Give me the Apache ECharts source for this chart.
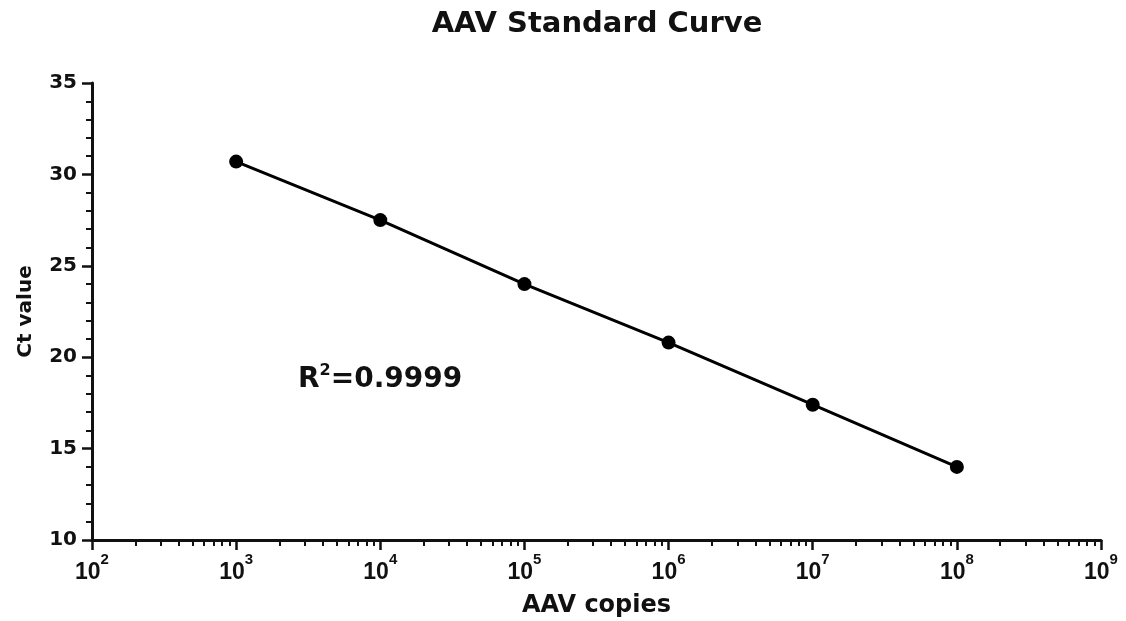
<!DOCTYPE html>
<html>
	<head>
		<meta charset="UTF-8" />
		<script src="https://cdn.jsdelivr.net/npm/echarts@6/dist/echarts.min.js"></script>
		<title>AAV Standard Curve</title>
		<style>
			body {
				margin: 0;
				background-color: #fff;
			}
			#chart {
				width: 1126px;
				height: 621px;
			}
		</style>
	</head>

	<body>
		<div id="chart"></div>
	</body>
</html>

<script>
	// copies (x) and Ct values
	var copies = [1e3, 1e4, 1e5, 1e6, 1e7, 1e8]
	var ctValues = [30.7, 27.5, 24.0, 20.8, 17.4, 14.0]
	var decadeTicks = [1e2, 1e3, 1e4, 1e5, 1e6, 1e7, 1e8, 1e9]
	var minorTicks = []
	for (var d = 0; d < decadeTicks.length - 1; d++) {
		for (var m = 2; m <= 9; m++) {
			minorTicks.push(decadeTicks[d] * m)
		}
	}
	var r2Text = '0.9999'

	var font = 'DejaVu Sans'
	var labelFont = 'Liberation Sans'
	var ink = '#111'

	var chart = echarts.init(document.getElementById('chart'))

	var option = {
		animation: false,
		backgroundColor: '#fff',
		grid: { left: 92, right: 25, top: 83, bottom: 81, outerBoundsMode: 'none' },
		graphic: [
			{
				type: 'text',
				x: 597,
				y: 10,
				style: {
					text: 'AAV Standard Curve',
					textAlign: 'center',
					fontFamily: font,
					fontWeight: 'bold',
					fontSize: 29,
					fill: ink,
				},
			},
			{
				type: 'text',
				x: 298,
				y: 363,
				style: {
					text: '{b|R}{s|2}{b|=' + r2Text + '}',
					fontFamily: font,
					fill: ink,
					rich: {
						b: { fontSize: 28, fontWeight: 'bold', fontFamily: font, fill: ink, lineHeight: 31, verticalAlign: 'bottom' },
						s: { fontSize: 16, fontWeight: 'bold', fontFamily: font, fill: ink, lineHeight: 16, verticalAlign: 'top' },
					},
				},
			},
		],
		xAxis: [
			{
				type: 'log',
				logBase: 10,
				min: 1e2,
				max: 1e9,
				position: 'bottom',
				name: 'AAV copies',
				nameLocation: 'middle',
				nameGap: 54,
				nameTextStyle: { fontFamily: font, fontWeight: 'bold', fontSize: 24, color: ink },
				axisLine: { lineStyle: { color: ink, width: 3 } },
				axisTick: { show: true, length: 10, lineStyle: { width: 2.5 }, customValues: decadeTicks },
				axisLabel: {
					margin: 12,
					customValues: decadeTicks,
					formatter: function (v) {
						var e = Math.round(Math.log10(v))
						return '{b|10}{s|' + e + '}'
					},
					rich: {
						b: { fontSize: 23, fontWeight: 'bold', fontFamily: labelFont, color: ink, lineHeight: 32, verticalAlign: 'bottom' },
						s: { fontSize: 15, fontWeight: 'bold', fontFamily: labelFont, color: ink, lineHeight: 15, verticalAlign: 'top' },
					},
				},
				splitLine: { show: false },
			},
			{
				type: 'log',
				logBase: 10,
				min: 1e2,
				max: 1e9,
				position: 'bottom',
				axisLine: { show: false },
				axisTick: { show: true, length: 6, lineStyle: { color: ink, width: 2 }, customValues: minorTicks },
				axisLabel: { show: false },
				splitLine: { show: false },
			},
		],
		yAxis: {
			type: 'value',
			min: 10,
			max: 35,
			interval: 5,
			name: 'Ct value',
			nameLocation: 'middle',
			nameGap: 56,
			nameTextStyle: { fontFamily: font, fontWeight: 'bold', fontSize: 20, color: ink },
			axisLine: { show: true, lineStyle: { color: ink, width: 3 } },
			axisTick: { show: true, length: 10, lineStyle: { width: 2.5 } },
			minorTick: { show: true, splitNumber: 5, length: 6, lineStyle: { color: ink, width: 2 } },
			axisLabel: { margin: 15, fontFamily: font, fontWeight: 'bold', fontSize: 20, color: ink },
			splitLine: { show: false },
		},
		series: [
			{
				type: 'line',
				xAxisIndex: 0,
				data: copies.map(function (c, i) {
					return [c, ctValues[i]]
				}),
				symbol: 'circle',
				symbolSize: 14,
				itemStyle: { color: '#000' },
				lineStyle: { color: '#000', width: 3 },
			},
		],
	}
	chart.setOption(option)
</script>
